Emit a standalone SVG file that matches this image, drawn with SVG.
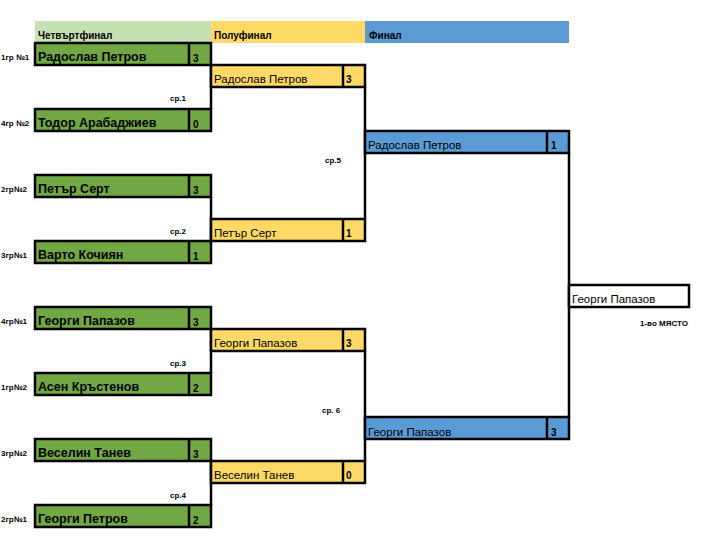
<svg xmlns="http://www.w3.org/2000/svg" width="724" height="558" viewBox="0 0 724 558">
<style>
text{font-family:"Liberation Sans",Arial,sans-serif;fill:#000}
.hd{font-size:10px;font-weight:bold}
.lb{font-size:8px;font-weight:bold}
.gn{font-size:12.5px;font-weight:bold}
.nm{font-size:11.5px}
.sc{font-size:10px;font-weight:bold}
.box{stroke:#000;stroke-width:2.5}
.g{fill:#71A844}
.y{fill:#FFD966}
.b{fill:#5B9BD5}
.w{fill:#fff}
.ln{stroke:#000;stroke-width:2.5;fill:none}
</style>
<rect width="724" height="558" fill="#fff"/>
<g id="headers">
<rect x="35" y="21" width="176" height="22" fill="#C5E0B3"/>
<rect x="211" y="21" width="154" height="22" fill="#FFD966"/>
<rect x="365" y="21" width="204" height="22" fill="#5B9BD5"/>
<text class="hd" x="38" y="39">Четвъртфинал</text>
<text class="hd" x="214" y="39">Полуфинал</text>
<text class="hd" x="369" y="39">Финал</text>
</g>
<g id="connectors">
<path class="ln" d="M211 65V109M211 197V241M211 329V373M211 461V505M365 87V219M365 351V461M569 153V417"/>
</g>
<g id="qf1"><rect class="box g" x="35" y="43" width="176" height="22"/><line class="ln" x1="189" y1="43" x2="189" y2="65"/><text class="lb" x="1" y="60">1гр №1</text><text class="gn" x="38" y="61">Радослав Петров</text><text class="sc" x="193" y="62">3</text></g>
<g id="qf2"><rect class="box g" x="35" y="109" width="176" height="22"/><line class="ln" x1="189" y1="109" x2="189" y2="131"/><text class="lb" x="1" y="126">4гр №2</text><text class="gn" x="38" y="127">Тодор Арабаджиев</text><text class="sc" x="193" y="128">0</text></g>
<g id="qf3"><rect class="box g" x="35" y="175" width="176" height="22"/><line class="ln" x1="189" y1="175" x2="189" y2="197"/><text class="lb" x="1" y="192">2гр№2</text><text class="gn" x="38" y="193">Петър Серт</text><text class="sc" x="193" y="194">3</text></g>
<g id="qf4"><rect class="box g" x="35" y="241" width="176" height="22"/><line class="ln" x1="189" y1="241" x2="189" y2="263"/><text class="lb" x="1" y="258">3гр№1</text><text class="gn" x="38" y="259">Варто Кочиян</text><text class="sc" x="193" y="260">1</text></g>
<g id="qf5"><rect class="box g" x="35" y="307" width="176" height="22"/><line class="ln" x1="189" y1="307" x2="189" y2="329"/><text class="lb" x="1" y="324">4гр№1</text><text class="gn" x="38" y="325">Георги Папазов</text><text class="sc" x="193" y="326">3</text></g>
<g id="qf6"><rect class="box g" x="35" y="373" width="176" height="22"/><line class="ln" x1="189" y1="373" x2="189" y2="395"/><text class="lb" x="1" y="390">1гр№2</text><text class="gn" x="38" y="391">Асен Кръстенов</text><text class="sc" x="193" y="392">2</text></g>
<g id="qf7"><rect class="box g" x="35" y="439" width="176" height="22"/><line class="ln" x1="189" y1="439" x2="189" y2="461"/><text class="lb" x="1" y="456">3гр№2</text><text class="gn" x="38" y="457">Веселин Танев</text><text class="sc" x="193" y="458">3</text></g>
<g id="qf8"><rect class="box g" x="35" y="505" width="176" height="22"/><line class="ln" x1="189" y1="505" x2="189" y2="527"/><text class="lb" x="1" y="522">2гр№1</text><text class="gn" x="38" y="523">Георги Петров</text><text class="sc" x="193" y="524">2</text></g>
<g id="sf1"><rect class="box y" x="211" y="65" width="154" height="22"/><line class="ln" x1="343" y1="65" x2="343" y2="87"/><text class="nm" x="214" y="83">Радослав Петров</text><text class="sc" x="346" y="83">3</text></g>
<g id="sf2"><rect class="box y" x="211" y="219" width="154" height="22"/><line class="ln" x1="343" y1="219" x2="343" y2="241"/><text class="nm" x="214" y="237">Петър Серт</text><text class="sc" x="346" y="237">1</text></g>
<g id="sf3"><rect class="box y" x="211" y="329" width="154" height="22"/><line class="ln" x1="343" y1="329" x2="343" y2="351"/><text class="nm" x="214" y="347">Георги Папазов</text><text class="sc" x="346" y="347">3</text></g>
<g id="sf4"><rect class="box y" x="211" y="461" width="154" height="22"/><line class="ln" x1="343" y1="461" x2="343" y2="483"/><text class="nm" x="214" y="479">Веселин Танев</text><text class="sc" x="346" y="479">0</text></g>
<g id="f1"><rect class="box b" x="365" y="131" width="204" height="22"/><line class="ln" x1="547" y1="131" x2="547" y2="153"/><text class="nm" x="368" y="149">Радослав Петров</text><text class="sc" x="551" y="149">1</text></g>
<g id="f2"><rect class="box b" x="365" y="417" width="204" height="22"/><line class="ln" x1="547" y1="417" x2="547" y2="439"/><text class="nm" x="368" y="436">Георги Папазов</text><text class="sc" x="551" y="436">3</text></g>
<g id="winner"><rect class="box w" x="569" y="285" width="120" height="22"/><text class="nm" x="572" y="303">Георги Папазов</text><text class="lb" x="640" y="326">1-во МЯСТО</text></g>
<g id="matchlabels">
<text class="lb" x="170" y="101">ср.1</text>
<text class="lb" x="170" y="234">ср.2</text>
<text class="lb" x="170" y="366">ср.3</text>
<text class="lb" x="170" y="498">ср.4</text>
<text class="lb" x="325" y="163">ср.5</text>
<text class="lb" x="322" y="413">ср. 6</text>
</g>
</svg>
